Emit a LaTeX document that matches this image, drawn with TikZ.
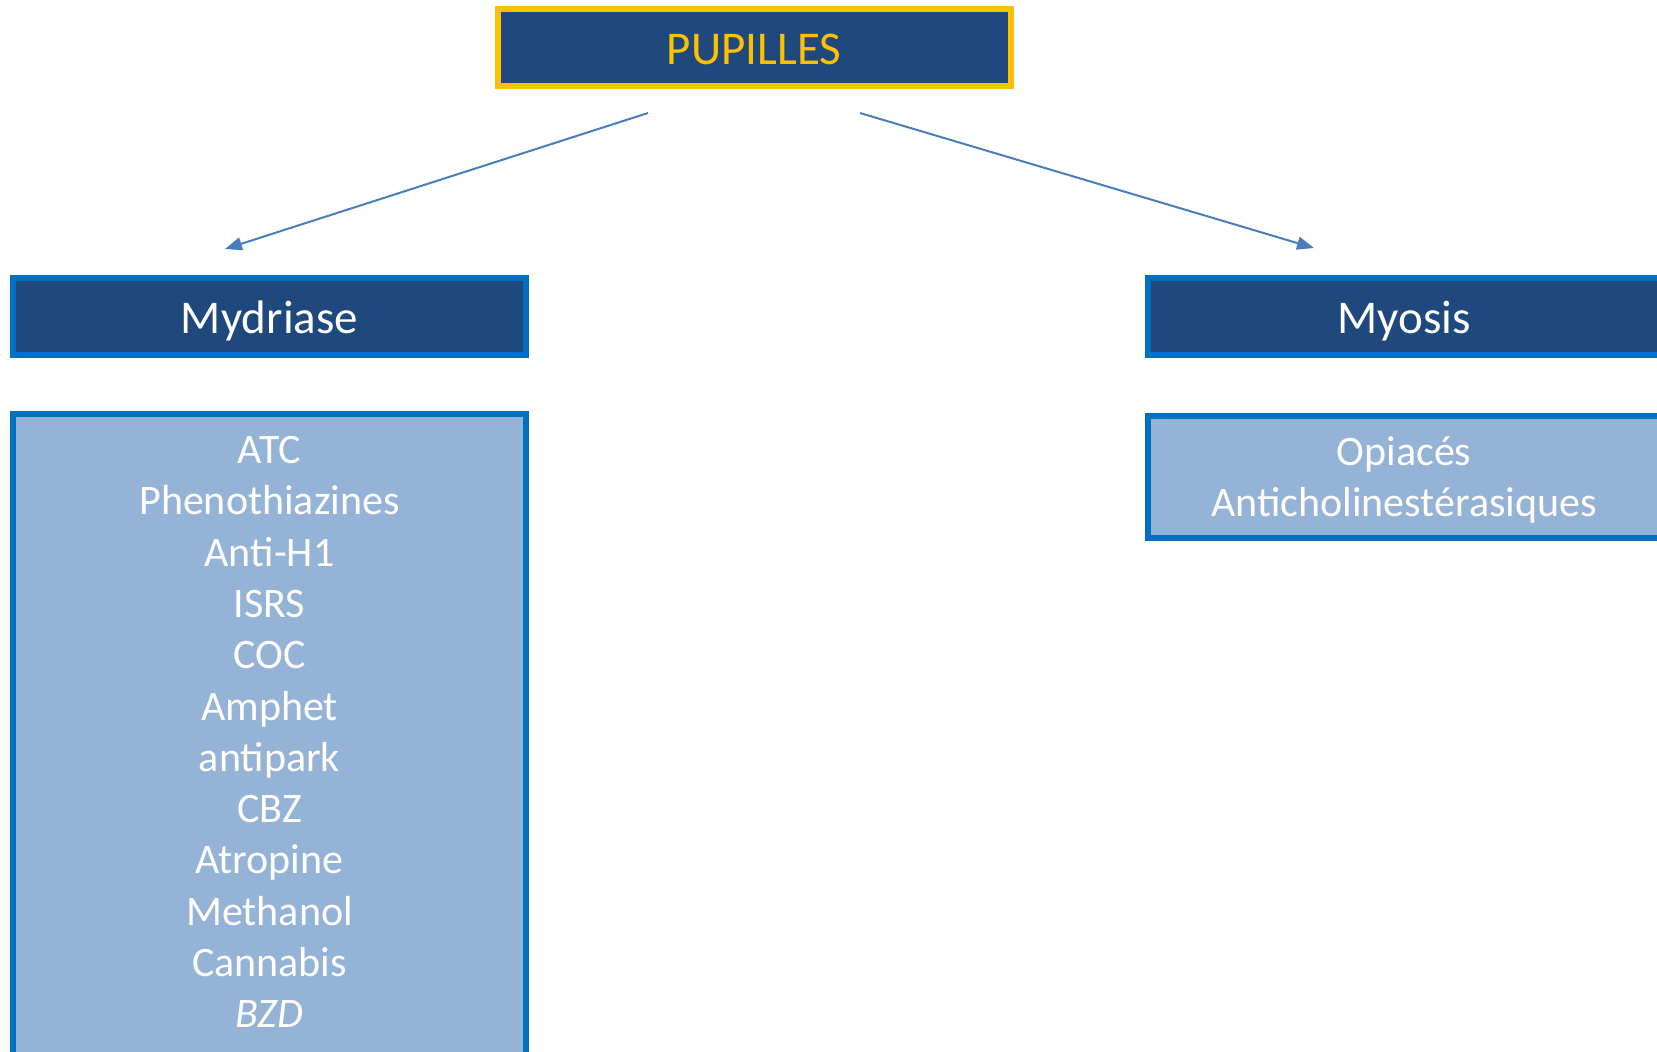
\documentclass[tikz,border=0pt]{standalone}
\usepackage{fontspec}
\setmainfont{Carlito}
\usetikzlibrary{arrows.meta}
\definecolor{navy}{HTML}{1F497D}
\definecolor{gold}{HTML}{FFC000}
\definecolor{edgeblue}{HTML}{0070C0}
\definecolor{paleblue}{HTML}{95B3D7}
\definecolor{arrowblue}{HTML}{4A7EBB}
\begin{document}
\begin{tikzpicture}[x=1bp,y=-1bp,
  every node/.style={outer sep=0pt},
  headbox/.style={fill=navy, line width=6bp, inner sep=0pt,
    minimum width=513bp, minimum height=77bp, text height=35bp, text depth=0pt,
    font=\fontsize{47bp}{56bp}\selectfont},
  titlebox/.style={headbox, draw=gold, text=gold},
  groupbox/.style={headbox, draw=edgeblue, text=white},
  listbox/.style={draw=edgeblue, fill=paleblue, line width=6bp, inner sep=0pt,
    minimum width=513bp},
  item/.style={anchor=base, inner sep=0pt, text=white,
    font=\fontsize{42bp}{51bp}\selectfont},
  link/.style={draw=arrowblue, line width=2bp,
    -{Triangle[length=17bp,width=13bp]}}]
\useasboundingbox (0,0) rectangle (1657,1051);
\clip (0,0) rectangle (1657,1051);

% headings
\node[titlebox] (top) at (754,47.2) {PUPILLES};
\node[groupbox] (myd) at (269.5,316.3) {Mydriase};
\node[groupbox] (myo) at (1404,316.3) {Myosis};

% substance lists
\node[listbox, minimum height=660bp, anchor=north] (mydlist) at (269.5,413.7) {};
\node[listbox, minimum height=122.3bp, anchor=north] (myolist) at (1404,415.7) {};

\foreach \t [count=\i] in {ATC,Phenothiazines,Anti-H1,ISRS,COC,Amphet,antipark,CBZ,Atropine,Methanol,Cannabis,\textit{BZD}}
  \node[item] (m\i) at (269.5,{463.5+(\i-1)*51.3}) {\t};

\node[item] (o1) at (1404,465.5) {Opiacés};
\node[item] (o2) at (1404,516.5) {Anticholinestérasiques};

% connectors
\coordinate (ls) at (648,113);
\coordinate (le) at (225,249);
\coordinate (rs) at (860,113);
\coordinate (re) at (1314,248);
\draw[link] (ls) -- (le);
\draw[link] (rs) -- (re);
\end{tikzpicture}
\end{document}
